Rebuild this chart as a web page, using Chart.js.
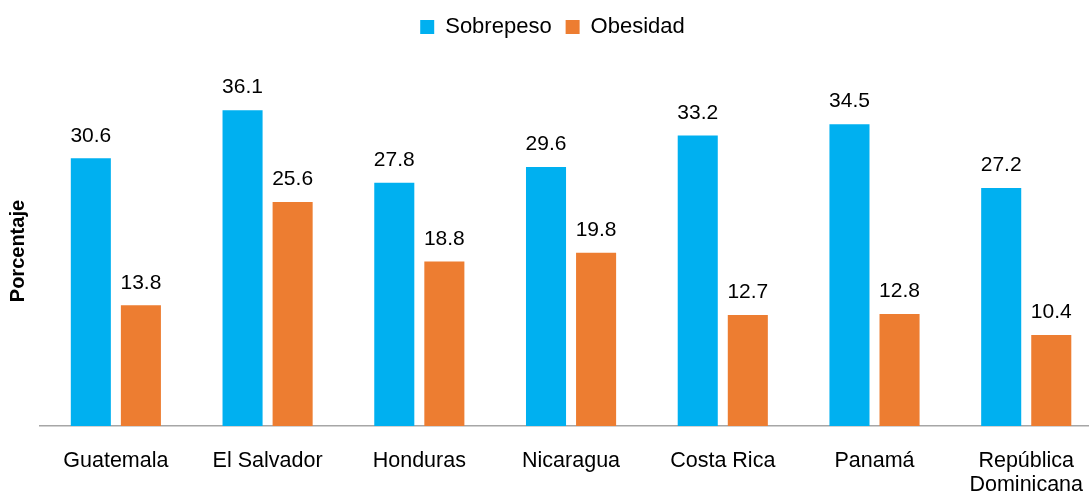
<!DOCTYPE html>
<html>
<head>
<meta charset="utf-8">
<script src="https://cdn.jsdelivr.net/npm/chart.js@4"></script>
<style>
  html, body { margin: 0; padding: 0; background: #fff; overflow: hidden; }
  #wrap { width: 1105px; height: 499px; }
</style>
</head>
<body>
<div id="wrap"><canvas id="grafico"></canvas></div>
<script>
const paises = ['Guatemala', 'El Salvador', 'Honduras', 'Nicaragua', 'Costa Rica', 'Panamá', ['República', 'Dominicana']];
const sobrepeso = [30.6, 36.1, 27.8, 29.6, 33.2, 34.5, 27.2];
const obesidad = [13.8, 25.6, 18.8, 19.8, 12.7, 12.8, 10.4];

const fonte = '"Liberation Sans Narrow", "Arial Narrow", "Liberation Sans", Arial, sans-serif';

// etiquetas de valor encima de cada barra
const etiquetas = {
    id: 'etiquetas',
    afterDatasetsDraw(chart) {
        const ctx = chart.ctx;
        ctx.save();
        ctx.font = '21px ' + fonte;
        ctx.fillStyle = '#000';
        ctx.textAlign = 'center';
        ctx.textBaseline = 'bottom';
        chart.data.datasets.forEach((ds, i) => {
            chart.getDatasetMeta(i).data.forEach((bar, j) => {
                ctx.fillText(ds.data[j].toFixed(1), bar.x, bar.y - 12);
            });
        });
        ctx.restore();
    }
};

// espacio extra debajo de la leyenda
const espacioLeyenda = {
    id: 'espacioLeyenda',
    beforeInit(chart) {
        const fit = chart.legend.fit;
        chart.legend.fit = function () {
            fit.bind(chart.legend)();
            this.height += 28;
        };
    }
};

new Chart(document.getElementById('grafico').getContext('2d'), {
    type: 'bar',
    data: {
        labels: paises,
        datasets: [{
            label: 'Sobrepeso',
            data: sobrepeso,
            backgroundColor: '#00B0F0',
            barPercentage: 0.8,
            categoryPercentage: 0.66
        }, {
            label: 'Obesidad',
            data: obesidad,
            backgroundColor: '#ED7D31',
            barPercentage: 0.8,
            categoryPercentage: 0.66
        }]
    },
    options: {
        responsive: true,
        maintainAspectRatio: false,
        animation: false,
        layout: { padding: { top: 2, left: 0, right: 0, bottom: -21 } },
        plugins: {
            legend: {
                position: 'top',
                labels: {
                    boxWidth: 14,
                    boxHeight: 14,
                    padding: 14,
                    color: '#000',
                    font: { size: 22, family: fonte }
                }
            },
            tooltip: { enabled: false }
        },
        scales: {
            x: {
                grid: { display: false, drawTicks: false },
                border: { display: true, color: '#a6a6a6', width: 1.5 },
                ticks: {
                    color: '#000',
                    padding: 22,
                    maxRotation: 0,
                    font: { size: 21.5, family: fonte, lineHeight: 1.16 }
                }
            },
            y: {
                min: 0,
                max: 40,
                grid: { display: false, drawTicks: false },
                border: { display: false },
                ticks: { display: false },
                title: {
                    display: true,
                    text: 'Porcentaje',
                    color: '#000',
                    padding: { top: 6, bottom: 10 },
                    font: { size: 20, weight: 'bold', family: fonte, lineHeight: 1.2 }
                }
            }
        }
    },
    plugins: [etiquetas, espacioLeyenda]
});
</script>
</body>
</html>
